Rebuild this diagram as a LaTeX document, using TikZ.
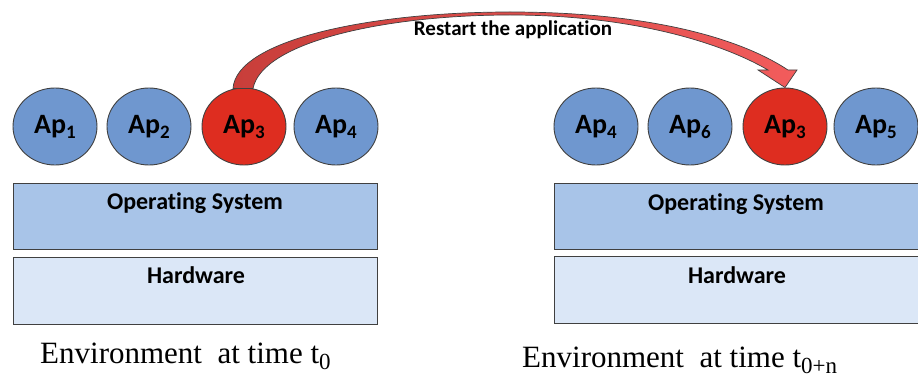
\documentclass[tikz,border=0pt]{standalone}
\usepackage{fontspec}
\setmainfont{Liberation Serif}
\newfontfamily\carlito[RawFeature=-liga]{Carlito}
\usetikzlibrary{shapes.geometric,calc}
\definecolor{appblue}{RGB}{111,151,207}
\definecolor{appred}{RGB}{222,45,32}
\definecolor{osfill}{RGB}{168,196,232}
\definecolor{hwfill}{RGB}{219,231,247}
\definecolor{edgegray}{RGB}{64,64,64}
\definecolor{arrowdark}{RGB}{200,62,58}
\definecolor{arrowlight}{RGB}{242,92,92}
\newcommand\apsub[1]{\raisebox{-5pt}{\fontsize{19}{19}\selectfont #1}}
\newcommand\envsub[1]{\raisebox{-6pt}{\fontsize{23}{23}\selectfont #1}}
\tikzset{
  app/.style={ellipse, draw=edgegray, line width=0.9pt, minimum width=84pt, minimum height=77pt, inner sep=0pt, fill=appblue, font=\carlito\bfseries\fontsize{28}{28}\selectfont, text=black},
  appr/.style={app, fill=appred},
  osbox/.style={draw=edgegray, line width=0.9pt, fill=osfill, minimum width=364pt, minimum height=66pt, inner sep=0pt},
  hwbox/.style={osbox, fill=hwfill, minimum height=67pt},
  boxtext/.style={anchor=base, inner sep=0pt, font=\carlito\bfseries\fontsize{24}{24}\selectfont},
  envtext/.style={anchor=base west, inner sep=0pt, font=\fontsize{31}{31}\selectfont},
  arrowtext/.style={anchor=base, inner sep=0pt, font=\carlito\bfseries\fontsize{21}{21}\selectfont}
}
\begin{document}
\begin{tikzpicture}[x=1pt, y=-1pt]
\useasboundingbox (0,0) rectangle (918,377);
% left environment
\node[app]  (l1) at (55,126.5) {Ap\apsub{1}};
\node[app]  (l2) at (149,126.5) {Ap\apsub{2}};
\node[appr] (l3) at (244,126.5) {Ap\apsub{3}};
\node[app]  (l4) at (336,126.5) {Ap\apsub{4}};
\node[osbox] (los) at (195,216) {};
\node[boxtext] (lost) at (195,209) {Operating System};
\node[hwbox] (lhw) at (195,290.5) {};
\node[boxtext] (lhwt) at (196,283) {Hardware};
\node[envtext] (lenv) at (40,363) {Environment~ at time t\envsub{0}};
% right environment
\node[app]  (r1) at (596,126.5) {Ap\apsub{4}};
\node[app]  (r2) at (690,126.5) {Ap\apsub{6}};
\node[appr] (r3) at (785,126.5) {Ap\apsub{3}};
\node[app]  (r4) at (876,126.5) {Ap\apsub{5}};
\node[osbox] (ros) at (736,216.5) {};
\node[boxtext] (rost) at (736,210) {Operating System};
\node[hwbox] (rhw) at (736,289.5) {};
\node[boxtext] (rhwt) at (737,283) {Hardware};
\node[envtext] (renv) at (522,367) {Environment~ at time t\envsub{0+n}};
% curved block arrow
\path[draw=edgegray, line width=0.7pt, left color=arrowdark, right color=arrowlight]
  ([xshift=-11pt,yshift=-1pt]l3.north) .. controls (236,40) and (370,12) .. (510,12)
  .. controls (640,12) and (735,35) .. (788,70) -- (797,70) -- (r3.north) -- (758,70) -- (768,70)
  .. controls (720,42) and (630,15) .. (510,15)
  .. controls (385,15) and (262,42) .. ([xshift=9pt,yshift=-1pt]l3.north) -- cycle;
\node[arrowtext] (atext) at (513,36) {Restart the application};
\end{tikzpicture}
\end{document}
